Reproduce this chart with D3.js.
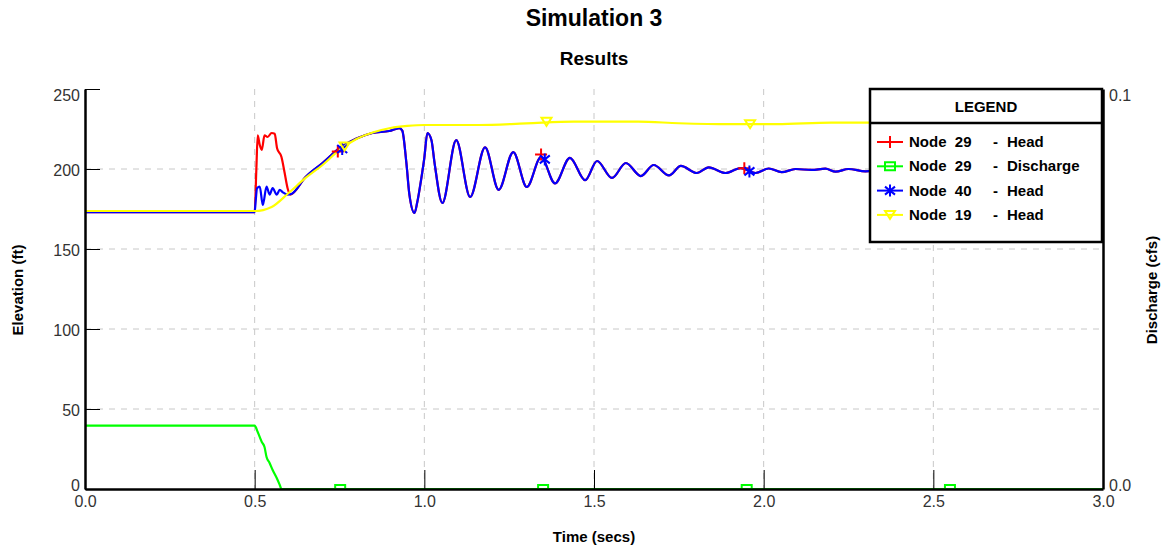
<!DOCTYPE html>
<html>
<head>
<meta charset="utf-8">
<script src="https://cdn.jsdelivr.net/npm/d3@7"></script>
<style>
  body { margin: 0; background: #fff; }
  svg { font-family: 'Liberation Sans', Arial, sans-serif; }
  .tick text { fill: #333; font-size: 16px; }
</style>
</head>
<body>
<script>
// axis ticks
const timeTicks = [0, 0.5, 1, 1.5, 2, 2.5, 3]
const elevationTicks = [0, 50, 100, 150, 200, 250]
const dischargeTicks = [0, 0.1]

// Node 29 head, transient part before it joins node 40 (time, ft)
const node29Start = [
  [0, 173.1], [0.5, 173.1], [0.505, 200], [0.509, 221], [0.515, 215], [0.521, 212],
  [0.529, 221], [0.538, 220], [0.55, 222.5], [0.559, 222], [0.566, 213], [0.579, 207.5],
  [0.588, 198], [0.597, 188], [0.605, 184]
]

// Node 40 head (time, ft)
const node40Head = [
  [0, 173], [0.5, 173], [0.503, 180], [0.507, 188], [0.515, 189], [0.524, 177.5],
  [0.535, 189], [0.544, 184], [0.553, 188], [0.565, 184], [0.574, 187], [0.582, 185.6],
  [0.597, 184], [0.608, 184.4], [0.65, 195], [0.7, 203.75], [0.75, 213], [0.8, 219],
  [0.847, 222.5], [0.897, 223.75], [0.926, 225.6], [0.935, 224], [0.947, 204], [0.956, 184],
  [0.971, 172.5], [0.979, 179], [0.991, 194], [1.0, 207], [1.009, 222.5], [1.021, 218],
  [1.03, 204], [1.053, 178.75], [1.094, 218], [1.135, 182.5], [1.179, 213.5], [1.219, 187],
  [1.262, 210.6], [1.302, 188.75], [1.344, 207.5], [1.385, 191], [1.429, 207], [1.474, 193],
  [1.509, 205], [1.553, 194.4], [1.594, 203.75], [1.638, 195.6], [1.676, 202.5], [1.721, 196],
  [1.756, 201.9], [1.803, 197.5], [1.838, 201], [1.888, 197.5], [1.932, 200.6], [1.976, 197.5],
  [2.015, 200.3], [2.053, 198], [2.094, 200], [2.141, 199.4], [2.182, 200.2], [2.212, 198.3],
  [2.25, 200], [2.3, 198.5], [2.35, 200], [2.45, 199], [2.6, 199.5], [2.8, 199.5], [3.0, 199.5]
]

// Node 19 head (time, ft)
const node19Head = [
  [0, 173.75], [0.5, 173.75], [0.55, 176.3], [0.6, 185], [0.65, 194.4], [0.7, 202.5],
  [0.75, 211.9], [0.8, 218.75], [0.85, 223], [0.9, 225.6], [0.95, 226.9], [1.0, 227.5],
  [1.16, 227.5], [1.3, 228.5], [1.44, 229.6], [1.63, 229.6], [1.75, 228.6], [1.9, 228],
  [2.04, 228.1], [2.2, 229], [2.4, 229], [2.6, 229.5], [3.0, 229.5]
]

// Node 29 discharge (time, cfs)
const node29Discharge = [
  [0, 0.01583], [0.5, 0.01583], [0.509, 0.01425], [0.521, 0.01175], [0.529, 0.0105],
  [0.535, 0.008], [0.544, 0.0065], [0.553, 0.00475], [0.565, 0.00275], [0.574, 0.001],
  [0.579, 0], [3.0, 0]
]

// marker points
const node29HeadMarks = [[0.745, 211], [1.344, 209], [1.943, 200.5], [2.54, 199.5]]
const node29DischargeMarks = [[0.752, 0], [1.35, 0], [1.95, 0], [2.549, 0]]
const node40HeadMarks = [[0.758, 212.5], [1.355, 206], [1.958, 198.5], [2.56, 199.5]]
const node19HeadMarks = [[0.765, 214], [1.36, 229.5], [1.96, 228], [2.56, 229.5]]

const node29Head = node29Start.concat(node40Head.filter(d => d[0] > 0.62))

const margin = { top: 89, right: 64, bottom: 71, left: 85 }
const width = 1167 - margin.left - margin.right
const height = 560 - margin.top - margin.bottom

const symbols = {
  plus: 'M-6,0H6M0,-6V6',
  square: 'M-5,-4H5V4H-5Z',
  star: 'M0,-6V6M-5,-4L5,4M-5,4L5,-4',
  triangle: 'M-5,-4H5L0,4Z'
}

const series = [
  { name: 'Node  29', kind: '- Head', data: node29Head, marks: node29HeadMarks, color: '#ff0000', symbol: 'plus', axis: 'left' },
  { name: 'Node  29', kind: '- Discharge', data: node29Discharge, marks: node29DischargeMarks, color: '#00ff00', symbol: 'square', axis: 'right' },
  { name: 'Node  40', kind: '- Head', data: node40Head, marks: node40HeadMarks, color: '#0000ff', symbol: 'star', axis: 'left' },
  { name: 'Node  19', kind: '- Head', data: node19Head, marks: node19HeadMarks, color: '#ffff00', symbol: 'triangle', axis: 'left' }
]

function main () {
  const svg = d3.select('body').append('svg').attr('width', 1167).attr('height', 560)

  svg.append('text').attr('x', 594).attr('y', 26).attr('text-anchor', 'middle')
    .style('font-size', '23px').style('font-weight', 'bold').text('Simulation 3')
  svg.append('text').attr('x', 594).attr('y', 65).attr('text-anchor', 'middle')
    .style('font-size', '19px').style('font-weight', 'bold').text('Results')

  const g = svg.append('g').attr('transform', 'translate(' + margin.left + ',' + margin.top + ')')

  const x = d3.scaleLinear().domain([0, 3]).range([0, width])
  const yLeft = d3.scaleLinear().domain([0, 250]).range([height, 0])
  const yRight = d3.scaleLinear().domain([0, 0.1]).range([height, 0])

  // grid
  g.append('g').selectAll('line').data(timeTicks.slice(1, -1)).enter().append('line')
    .attr('x1', d => x(d)).attr('x2', d => x(d)).attr('y1', 0).attr('y2', height)
    .attr('stroke', '#c8c8c8').attr('stroke-dasharray', '6,6')
  g.append('g').selectAll('line').data(elevationTicks.slice(1, -1)).enter().append('line')
    .attr('y1', d => yLeft(d)).attr('y2', d => yLeft(d)).attr('x1', 0).attr('x2', width)
    .attr('stroke', '#c8c8c8').attr('stroke-dasharray', '6,6')

  svg.append('defs').append('clipPath').attr('id', 'plot')
    .append('rect').attr('width', width).attr('height', height)

  const plot = g.append('g').attr('clip-path', 'url(#plot)')

  series.forEach(s => {
    const ys = s.axis === 'left' ? yLeft : yRight
    const line = d3.line().x(d => x(d[0])).y(d => ys(d[1])).curve(d3.curveMonotoneX)
    plot.append('path').datum(s.data)
      .attr('fill', 'none').attr('stroke', s.color).attr('stroke-width', 2.2).attr('d', line)
  })

  series.forEach(s => {
    const ys = s.axis === 'left' ? yLeft : yRight
    plot.append('g').selectAll('path').data(s.marks).enter().append('path')
      .attr('transform', d => 'translate(' + x(d[0]) + ',' + ys(d[1]) + ')')
      .attr('d', symbols[s.symbol])
      .attr('fill', 'none').attr('stroke', s.color).attr('stroke-width', 2)
  })

  // axes
  const leftAxis = g.append('g')
    .call(d3.axisLeft(yLeft).tickValues(elevationTicks).tickSizeInner(-15).tickSizeOuter(0).tickPadding(5))
  leftAxis.selectAll('.tick text').attr('dy', d => d === 250 ? '0.72em' : d === 0 ? '0.1em' : '0.4em')

  const bottomAxis = g.append('g').attr('transform', 'translate(0,' + height + ')')
    .call(d3.axisBottom(x).tickValues(timeTicks).tickFormat(d3.format('.1f')).tickSizeInner(-19).tickSizeOuter(0).tickPadding(7))

  const rightAxis = g.append('g').attr('transform', 'translate(' + width + ',0)')
    .call(d3.axisRight(yRight).tickValues(dischargeTicks).tickFormat(d3.format('.1f')).tickSize(0).tickPadding(6))
  rightAxis.selectAll('.tick text').attr('dy', d => d === 0.1 ? '0.72em' : '0.1em')

  ;[leftAxis, bottomAxis, rightAxis].forEach(a => {
    a.select('.domain').attr('stroke', '#000').attr('stroke-width', 2.5)
    a.selectAll('.tick line').attr('stroke', '#000')
  })

  // axis titles
  svg.append('text').attr('transform', 'translate(23,290) rotate(-90)').attr('text-anchor', 'middle')
    .style('font-size', '15px').style('font-weight', 'bold').text('Elevation (ft)')
  svg.append('text').attr('transform', 'translate(1157,290) rotate(-90)').attr('text-anchor', 'middle')
    .style('font-size', '15px').style('font-weight', 'bold').text('Discharge (cfs)')
  svg.append('text').attr('x', 594).attr('y', 542).attr('text-anchor', 'middle')
    .style('font-size', '15px').style('font-weight', 'bold').text('Time (secs)')

  // legend
  const legend = svg.append('g').attr('transform', 'translate(870,89)')
  legend.append('rect').attr('width', 232).attr('height', 153)
    .attr('fill', '#fff').attr('stroke', '#000').attr('stroke-width', 2.5)
  legend.append('line').attr('x1', 0).attr('x2', 232).attr('y1', 34).attr('y2', 34)
    .attr('stroke', '#000').attr('stroke-width', 2.5)
  legend.append('text').attr('x', 116).attr('y', 23).attr('text-anchor', 'middle')
    .style('font-size', '15px').style('font-weight', 'bold').text('LEGEND')

  const rows = legend.selectAll('.row').data(series).enter().append('g')
    .attr('class', 'row')
    .attr('transform', (d, i) => 'translate(0,' + (53 + i * 24.3) + ')')
  rows.append('line').attr('x1', 7).attr('x2', 33).attr('stroke', d => d.color).attr('stroke-width', 2)
  rows.append('path').attr('transform', 'translate(20,0)').attr('d', d => symbols[d.symbol])
    .attr('fill', 'none').attr('stroke', d => d.color).attr('stroke-width', 2)
  rows.append('text').attr('x', 39).attr('y', 5).attr('xml:space', 'preserve')
    .style('font-size', '15px').style('font-weight', 'bold').text(d => d.name)
  rows.append('text').attr('x', 123).attr('y', 5).attr('xml:space', 'preserve')
    .style('font-size', '15px').style('font-weight', 'bold').text(d => d.kind.split(' ')[0])
  rows.append('text').attr('x', 137).attr('y', 5)
    .style('font-size', '15px').style('font-weight', 'bold').text(d => d.kind.split(' ')[1])
}

main()
</script>
</body>
</html>
